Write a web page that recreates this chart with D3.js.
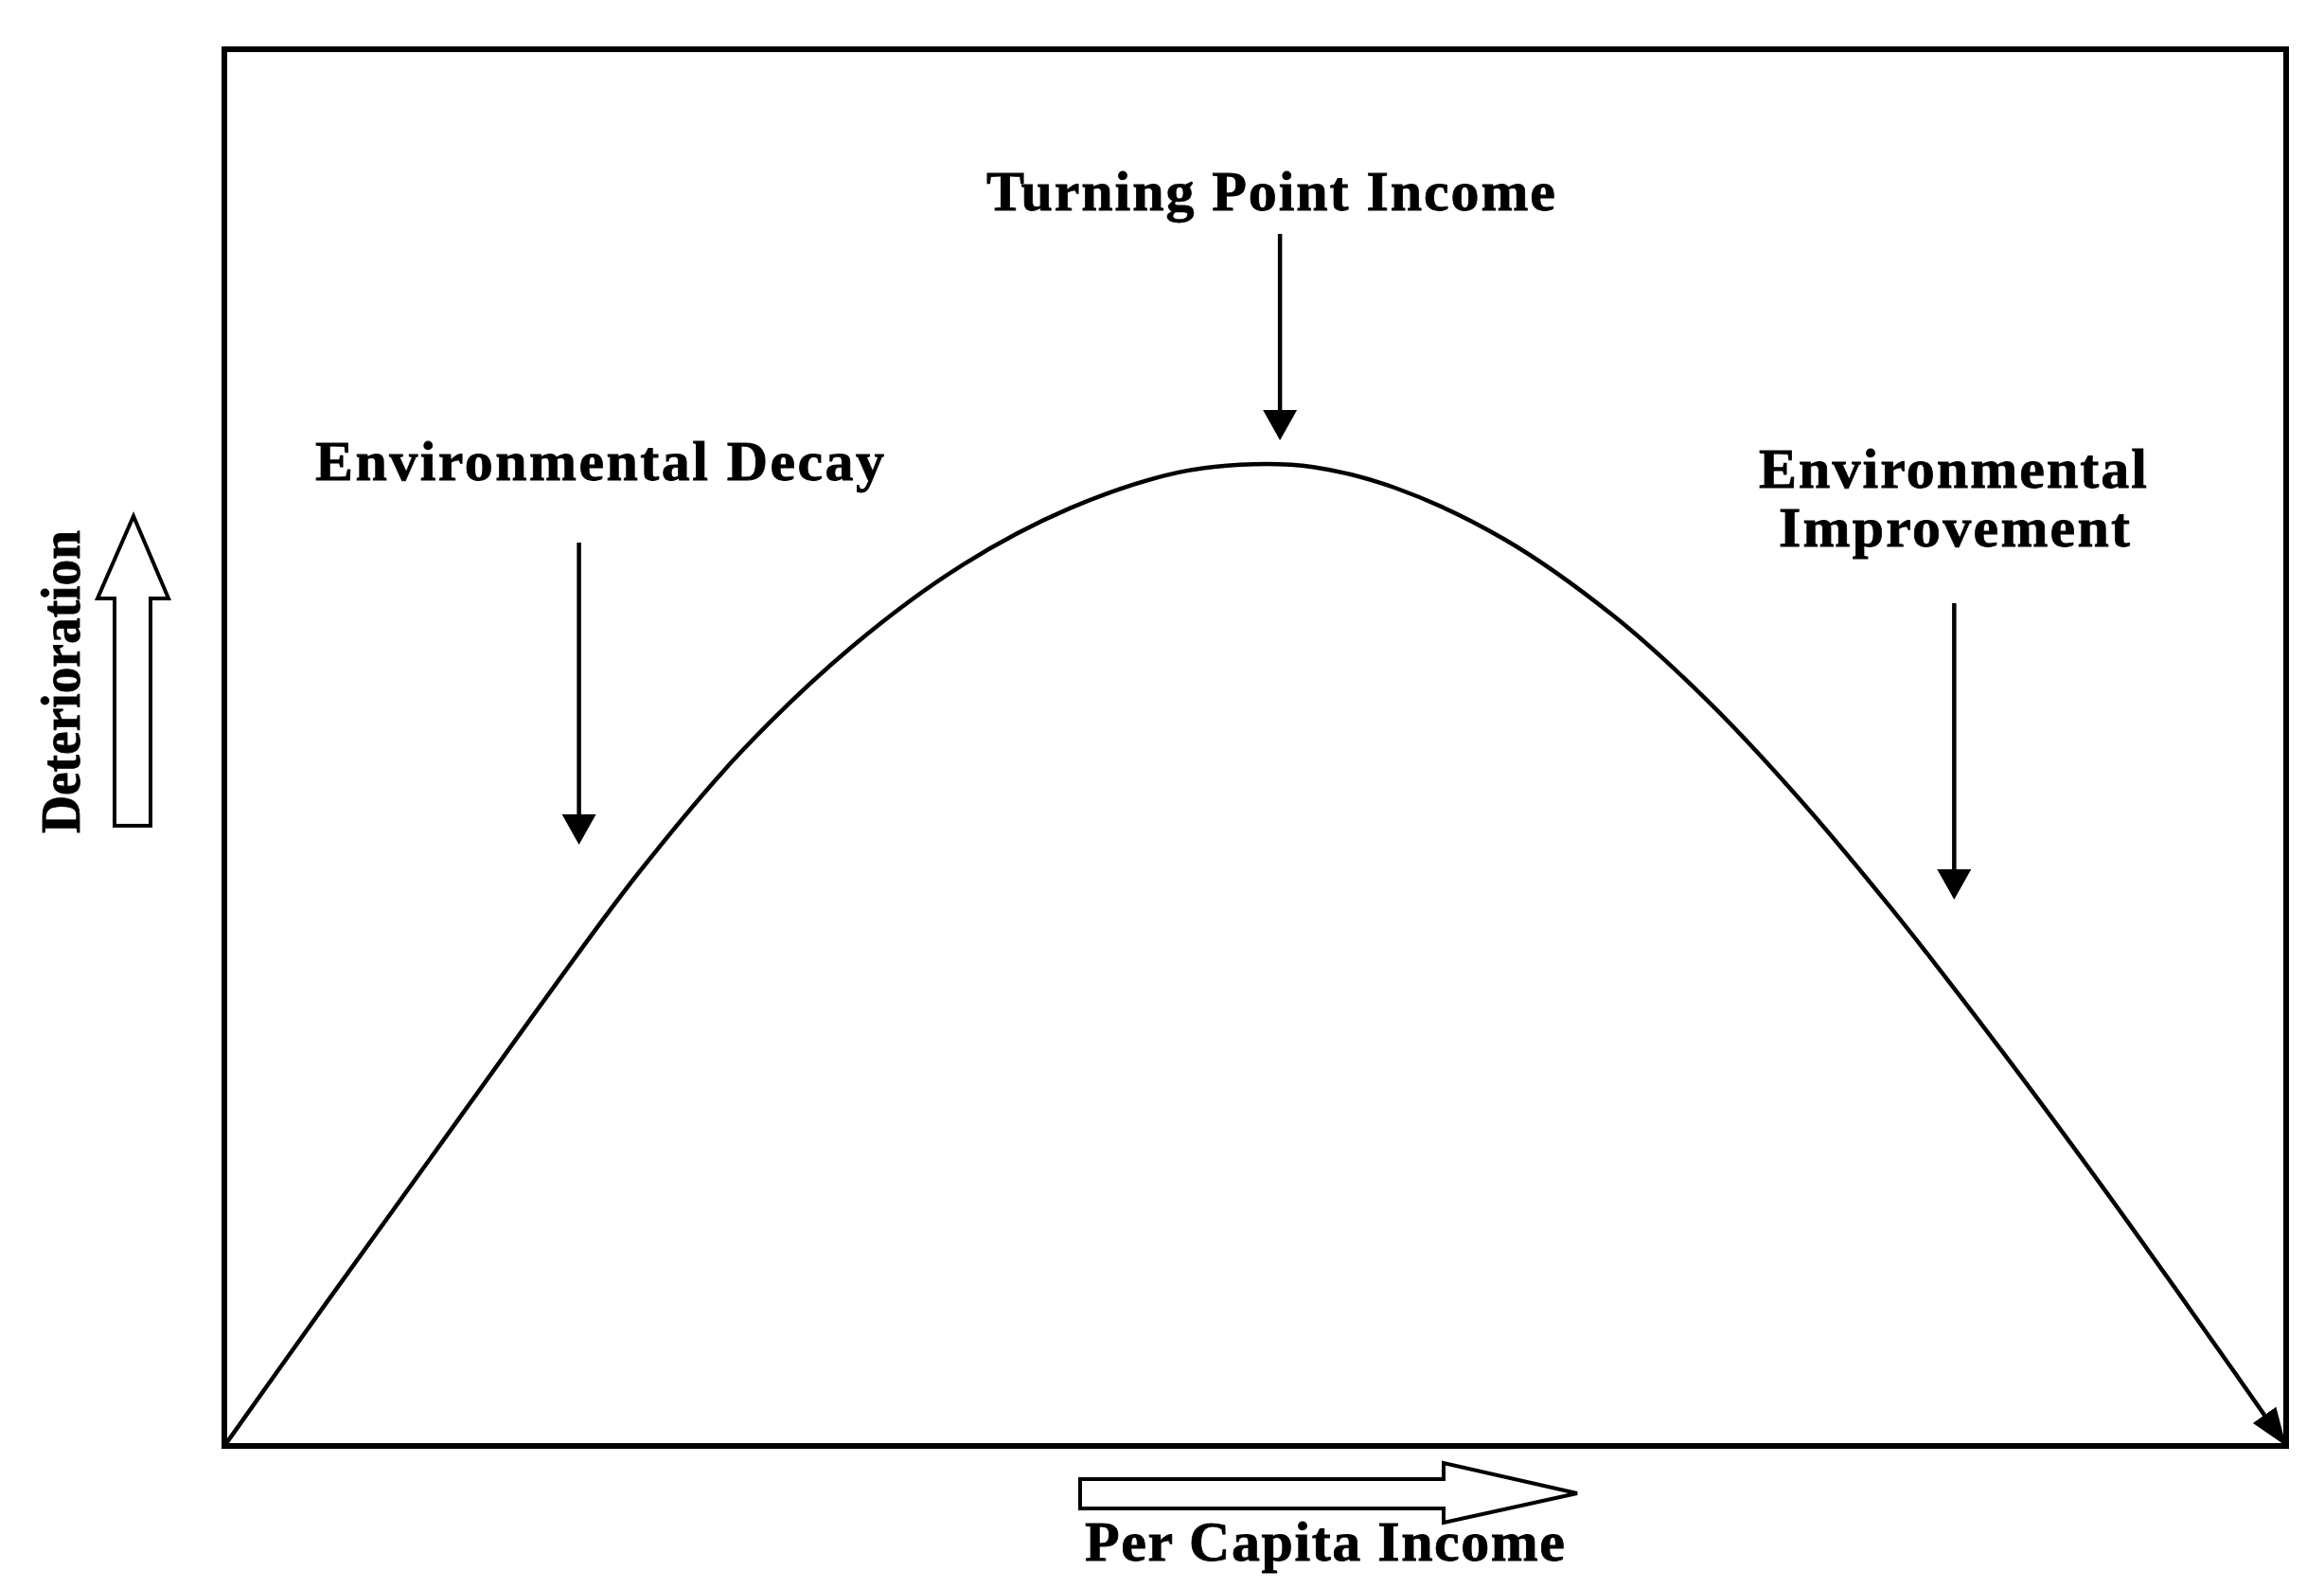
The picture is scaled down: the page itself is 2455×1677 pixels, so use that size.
<!DOCTYPE html>
<html><head><meta charset="utf-8">
<script src="https://cdn.jsdelivr.net/npm/d3@7"></script>
<style>html,body{margin:0;padding:0;background:#fff;} svg{display:block}</style>
</head><body>
<script>
// Data (conceptual Environmental Kuznets Curve)
const incomeLevels  = [0, 4.93, 9.97, 15.00, 20.10, 25.06, 30.45, 35.70, 41.02, 46.27, 49.93, 52.81, 56.76, 62.08, 67.33, 71.79, 76.10, 80.92, 86.17, 91.20, 95.73, 100];
const deterioration = [0, 10.21, 20.54, 30.87, 41.05, 49.69, 57.24, 62.98, 67.14, 69.70, 70.29, 70.08, 68.61, 64.92, 59.49, 53.57, 46.82, 38.36, 28.36, 18.33, 8.97, 0];
const annotationLabels = [["Turning Point Income"], ["Environmental Decay"], ["Environmental", "Improvement"]];
const annotationIncome = [51.2, 17.2, 83.9];
const xAxisLabel = "Per Capita Income";
const yAxisLabel = "Deterioration";

const W = 2455, H = 1677;
const svg = d3.select("body").append("svg").attr("width", W).attr("height", H)
  .style("background", "#fff");

const x = d3.scaleLinear().domain([0, 100]).range([237, 2415]);
const y = d3.scaleLinear().domain([0, 100]).range([1527, 52]);

const font = "'Liberation Serif','Times New Roman',serif";

// Frame
svg.append("rect")
  .attr("x", x(0)).attr("y", y(100))
  .attr("width", x(100) - x(0)).attr("height", y(0) - y(100))
  .attr("fill", "none").attr("stroke", "#000").attr("stroke-width", 6);

// Arrow marker for curve end
const defs = svg.append("defs");
defs.append("marker").attr("id", "endArrow")
  .attr("markerUnits", "userSpaceOnUse")
  .attr("viewBox", "0 0 40 30").attr("markerWidth", 40).attr("markerHeight", 30)
  .attr("refX", 40).attr("refY", 15).attr("orient", "auto")
  .append("path").attr("d", "M0,0 L40,15 L0,30 Z").attr("fill", "#000");

// Curve
const pts = incomeLevels.map((v, i) => [v, deterioration[i]]);
const line = d3.line().x(d => x(d[0])).y(d => y(d[1])).curve(d3.curveCatmullRom.alpha(0.5));
svg.append("path").datum(pts).attr("d", line)
  .attr("fill", "none").attr("stroke", "#000").attr("stroke-width", 4.5)
  .attr("stroke-linejoin", "round")
  .attr("marker-end", "url(#endArrow)");

// Down arrows + labels
const arrowTop = [247, 573, 637];
const arrowTip = [465, 892, 950];
const labelLayouts = [
  [{x: 1042, y: 222, len: 601}],
  [{x: 333, y: 507, len: 601}],
  [{x: 1858, y: 515, len: 410}, {x: 1879, y: 577, len: 371}]
];
annotationIncome.forEach((v, i) => {
  const ax = x(v);
  const headLen = 32, half = 18;
  svg.append("line").attr("x1", ax).attr("x2", ax)
    .attr("y1", arrowTop[i]).attr("y2", arrowTip[i] - headLen + 2)
    .attr("stroke", "#000").attr("stroke-width", 4.5);
  svg.append("path")
    .attr("d", `M${ax - half},${arrowTip[i] - headLen} L${ax + half},${arrowTip[i] - headLen} L${ax},${arrowTip[i]} Z`)
    .attr("fill", "#000");
  annotationLabels[i].forEach((t, j) => {
    const L = labelLayouts[i][j];
    svg.append("text").attr("x", L.x).attr("y", L.y)
      .attr("textLength", L.len).attr("lengthAdjust", "spacing")
      .attr("font-family", font).attr("font-weight", "bold").attr("font-size", 60)
      .attr("fill", "#000").attr("stroke", "#000").attr("stroke-width", 0.8).text(t);
  });
});

// Hollow axis arrows
svg.append("path")
  .attr("d", "M121,872 L159,872 L159,632 L178,632 L141,545 L103,632 L121,632 Z")
  .attr("fill", "#fff").attr("stroke", "#000").attr("stroke-width", 4).attr("stroke-linejoin", "miter");
svg.append("path")
  .attr("d", "M1141,1562 L1525,1562 L1525,1545 L1666,1577 L1525,1608 L1525,1593 L1141,1593 Z")
  .attr("fill", "#fff").attr("stroke", "#000").attr("stroke-width", 4).attr("stroke-linejoin", "miter");

// Axis labels
svg.append("text").attr("x", 1146).attr("y", 1648)
  .attr("textLength", 507).attr("lengthAdjust", "spacing")
  .attr("font-family", font).attr("font-weight", "bold").attr("font-size", 60)
  .attr("fill", "#000").attr("stroke", "#000").attr("stroke-width", 0.8).text(xAxisLabel);

svg.append("text")
  .attr("transform", "translate(84,880) rotate(-90)")
  .attr("x", 0).attr("y", 0)
  .attr("textLength", 320).attr("lengthAdjust", "spacingAndGlyphs")
  .attr("font-family", font).attr("font-weight", "bold").attr("font-size", 60)
  .attr("fill", "#000").attr("stroke", "#000").attr("stroke-width", 0.8).text(yAxisLabel);
</script>
</body></html>
